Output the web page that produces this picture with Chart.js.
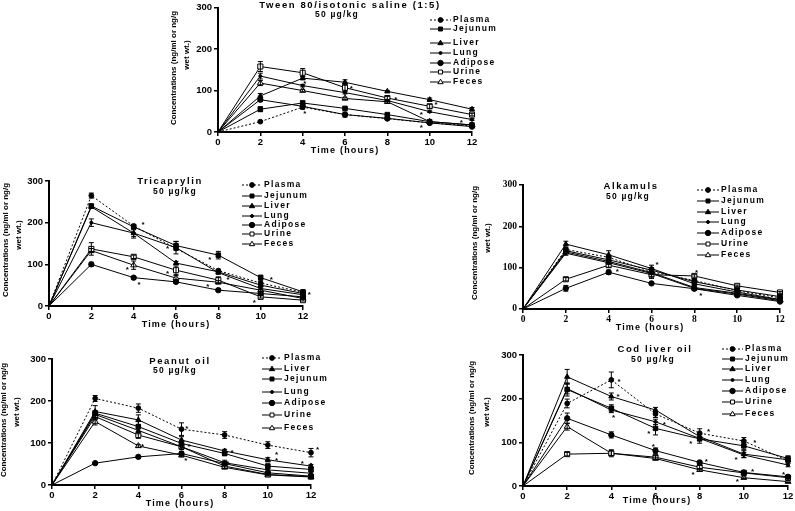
<!DOCTYPE html>
<html><head><meta charset="utf-8">
<script src="https://cdn.jsdelivr.net/npm/chart.js@4.4.1/dist/chart.umd.min.js"></script>
<style>
html,body{margin:0;padding:0;background:#fff;}
#wrap{position:relative;width:795px;height:511px;overflow:hidden;background:#fff;}
.pane{position:absolute;}
</style></head><body><div id="wrap"></div>
<script>
// ---------- DATA ----------
const hours = [0, 2, 4, 6, 8, 10, 12];
const yTickValues = [0, 100, 200, 300];
const doseLabel = '50 µg/kg';
const xTitleText = 'Time (hours)';
const yTitleLines = ['Concentrations (ng/ml or ng/g', 'wet wt.)'];

const orderStd = ['Plasma', 'Jejunum', 'Liver', 'Lung', 'Adipose', 'Urine', 'Feces'];
const orderPeanut = ['Plasma', 'Liver', 'Jejunum', 'Lung', 'Adipose', 'Urine', 'Feces'];

// Tween 80/isotonic saline
const tweenPlasma  = [0, 25, 60, 42, 32, 22, 15];
const tweenJejunum = [0, 55, 70, 57, 42, 25, 17];
const tweenLiver   = [0, 87, 130, 120, 98, 78, 55];
const tweenLung    = [0, 135, 112, 95, 76, 49, 30];
const tweenAdipose = [0, 78, 62, 42, 33, 22, 13];
const tweenUrine   = [0, 158, 143, 107, 82, 62, 42];
const tweenFeces   = [0, 118, 100, 81, 73, 25, 17];
const tweenErr = [[0,2,5,3,2,2,2],[0,6,5,3,2,2,2],[0,6,4,6,2,4,4],[0,7,3,3,2,2,2],[0,4,3,6,3,2,2],[0,12,10,8,4,5,3],[0,6,3,3,3,2,2]];
const tweenStars = [[4.1,122],[4.1,48],[6.3,108],[8.4,82],[9.6,46],[10.3,70],[9.6,14],[11.5,26]];

// Tricaprylin
const tricPlasma  = [0, 265, 192, 138, 85, 55, 33];
const tricJejunum = [0, 240, 190, 145, 122, 68, 34];
const tricLiver   = [0, 238, 175, 103, 82, 50, 30];
const tricLung    = [0, 200, 175, 140, 80, 42, 27];
const tricAdipose = [0, 100, 68, 58, 38, 30, 22];
const tricUrine   = [0, 137, 118, 86, 62, 22, 14];
const tricFeces   = [0, 133, 98, 67, 57, 38, 18];
const tricErr = [[0,6,4,4,3,3,2],[0,4,5,10,9,6,3],[0,4,12,4,4,3,2],[0,9,8,15,4,3,2],[0,5,3,3,3,2,2],[0,15,4,10,8,3,2],[0,5,10,6,4,3,2]];
const tricStars = [[4.44,199],[5.6,141],[3.7,91],[4.25,55],[5.6,82],[7.6,115],[7.5,50],[8.46,67],[10.5,67],[9.7,12],[12.3,31]];

// Alkamuls
const alkPlasma  = [0, 144, 125, 90, 69, 44, 27];
const alkJejunum = [0, 141, 119, 94, 66, 46, 30];
const alkLiver   = [0, 157, 131, 98, 61, 41, 23];
const alkLung    = [0, 135, 112, 86, 50, 36, 20];
const alkAdipose = [0, 50, 89, 62, 49, 33, 18];
const alkUrine   = [0, 72, 106, 83, 80, 56, 40];
const alkFeces   = [0, 138, 115, 88, 52, 38, 22];
const alkErr = [[0,5,4,4,3,2,2],[0,5,4,6,3,2,2],[0,7,10,8,3,2,2],[0,5,4,12,4,2,2],[0,7,5,3,3,2,2],[0,4,5,4,3,2,2],[0,5,4,4,3,2,2]];
const alkStars = [[6.26,111],[4.4,94],[8.1,92],[8.3,36],[12.1,19]];

// Peanut oil (legend order: Plasma, Liver, Jejunum, Lung, Adipose, Urine, Feces)
const peaPlasma  = [0, 206, 183, 133, 119, 95, 77];
const peaLiver   = [0, 175, 155, 107, 81, 60, 45];
const peaJejunum = [0, 171, 139, 99, 75, 45, 37];
const peaLung    = [0, 168, 130, 91, 53, 36, 28];
const peaAdipose = [0, 52, 67, 75, 51, 29, 21];
const peaUrine   = [0, 163, 119, 91, 45, 25, 20];
const peaFeces   = [0, 151, 93, 71, 42, 24, 19];
const peaErr = [[0,7,10,15,8,8,10],[0,14,12,8,4,5,4],[0,6,12,6,5,5,4],[0,8,8,6,6,3,3],[0,2,2,5,4,3,2],[0,8,8,5,5,3,3],[0,8,3,4,3,2,2]];
const peaStars = [[6.25,138],[4.2,95],[6.35,95],[6.2,62],[8.34,81],[8.15,55],[10.4,76],[10.4,62],[11.6,55],[12.3,88]];

// Cod liver oil
const codPlasma  = [0, 189, 243, 165, 121, 103, 58];
const codJejunum = [0, 221, 178, 132, 108, 92, 63];
const codLiver   = [0, 250, 205, 174, 113, 73, 60];
const codLung    = [0, 223, 174, 147, 109, 71, 48];
const codAdipose = [0, 155, 117, 81, 54, 31, 21];
const codUrine   = [0, 73, 75, 66, 43, 30, 19];
const codFeces   = [0, 136, 75, 63, 37, 19, 10];
const codErr = [[0,10,18,8,10,8,5],[0,15,8,15,10,8,6],[0,17,8,6,5,8,4],[0,12,6,6,5,6,4],[0,12,7,6,3,3,2],[0,4,5,4,4,3,2],[0,8,8,3,3,2,2]];
const codStars = [[4.35,243],[4.3,208],[4.1,160],[6.4,144],[5.7,124],[5.9,94],[8.4,128],[7.6,101],[8.3,60],[7.7,30],[10.5,103],[9.65,64],[10.4,37],[9.7,14],[11.8,30]];

// ---------- STYLE / LAYOUT ----------
const seriesStyle = {
  Plasma:  {shape:'circle',   r:2.4, fill:'#000', dash:[2,2]},
  Jejunum: {shape:'rect',     r:3.2, fill:'#000', dash:[]},
  Liver:   {shape:'triangle', r:3.0, fill:'#000', dash:[]},
  Lung:    {shape:'circle',   r:1.5, fill:'#000', dash:[]},
  Adipose: {shape:'circle',   r:2.7, fill:'#000', dash:[]},
  Urine:   {shape:'rect',     r:3.6, fill:'#fff', dash:[]},
  Feces:   {shape:'triangle', r:3.4, fill:'#fff', dash:[]}
};

const panels = [
  {id:'tween', title:'Tween 80/isotonic saline (1:5)', names:orderStd,
   series:[tweenPlasma,tweenJejunum,tweenLiver,tweenLung,tweenAdipose,tweenUrine,tweenFeces], err:tweenErr, stars:tweenStars,
   canvas:[165,0,345,160], plot:[218,7,472,132], titleXY:[350,5], doseXY:[337,15],
   legend:{x0:430, tx:453, rows:[20,29,43,53,63,72,82]}, yT:{xs:[174,187], ys:[68,55]}, xT:[345,151], tickFamily:'Liberation Sans'},
  {id:'tric', title:'Tricaprylin', names:orderStd,
   series:[tricPlasma,tricJejunum,tricLiver,tricLung,tricAdipose,tricUrine,tricFeces], err:tricErr, stars:tricStars,
   canvas:[0,168,320,167], plot:[49,181,303,306], titleXY:[170,181], doseXY:[175,192],
   legend:{x0:242, tx:264, rows:[185,196,206,216,225,234,244]}, yT:{xs:[6,19], ys:[240,235]}, xT:[176,325], tickFamily:'Liberation Sans'},
  {id:'alk', title:'Alkamuls', names:orderStd,
   series:[alkPlasma,alkJejunum,alkLiver,alkLung,alkAdipose,alkUrine,alkFeces], err:alkErr, stars:alkStars,
   canvas:[465,170,330,168], plot:[523,185,780,309], titleXY:[631,186], doseXY:[628,197],
   legend:{x0:697, tx:721, rows:[190,201,212,222,233,244,255]}, yT:{xs:[475,488], ys:[243,238]}, xT:[650,328], tickFamily:'Liberation Serif'},
  {id:'pea', title:'Peanut oil', names:orderPeanut,
   series:[peaPlasma,peaLiver,peaJejunum,peaLung,peaAdipose,peaUrine,peaFeces], err:peaErr, stars:peaStars,
   canvas:[0,340,335,171], plot:[52,359,311,485], titleXY:[180,361], doseXY:[175,371],
   legend:{x0:262, tx:284, rows:[358,369,379,392,403,415,428]}, yT:{xs:[4,17], ys:[420,412]}, xT:[180,504], tickFamily:'Liberation Sans'},
  {id:'cod', title:'Cod liver oil', names:orderStd,
   series:[codPlasma,codJejunum,codLiver,codLung,codAdipose,codUrine,codFeces], err:codErr, stars:codStars,
   canvas:[465,340,330,171], plot:[523,355,788,486], titleXY:[655,349], doseXY:[653,360],
   legend:{x0:722, tx:745, rows:[349,359,369,380,391,402,414]}, yT:{xs:[472,487], ys:[418,412]}, xT:[657,501], tickFamily:'Liberation Sans'}
];

const SANS = '"Liberation Sans", Arial, sans-serif';

function drawMarker(ctx, shape, r, fill, x, y) {
  ctx.save();
  ctx.setLineDash([]);
  ctx.fillStyle = fill; ctx.strokeStyle = '#000'; ctx.lineWidth = 1;
  ctx.beginPath();
  if (shape === 'circle') ctx.arc(x, y, r, 0, Math.PI * 2);
  else if (shape === 'rect') { const s = r * Math.SQRT1_2; ctx.rect(x - s, y - s, 2 * s, 2 * s); }
  else { ctx.moveTo(x, y - r); ctx.lineTo(x + r * 0.95, y + r * 0.6); ctx.lineTo(x - r * 0.95, y + r * 0.6); ctx.closePath(); }
  ctx.fill(); ctx.stroke();
  ctx.restore();
}

function txt(ctx, s, x, y, font, spacing, align) {
  ctx.font = font;
  try { ctx.letterSpacing = (spacing || 0) + 'px'; } catch (e) {}
  ctx.textAlign = align || 'center';
  ctx.textBaseline = 'middle';
  ctx.fillStyle = '#000';
  ctx.fillText(s, x, y);
}

function decor(p) {
  const [cx, cy] = p.canvas;
  return {
    id: 'decor_' + p.id,
    afterDatasetsDraw(chart) {
      const ctx = chart.ctx, xs = chart.scales.x, ys = chart.scales.y;
      ctx.save();
      ctx.strokeStyle = '#000'; ctx.lineWidth = 1; ctx.setLineDash([]);
      p.err.forEach((arr, i) => {
        arr.forEach((e, j) => {
          if (!e) return;
          const v = p.series[i][j];
          const px = xs.getPixelForValue(hours[j]);
          const y1 = ys.getPixelForValue(v - e), y2 = ys.getPixelForValue(v + e);
          ctx.beginPath();
          ctx.moveTo(px, y1); ctx.lineTo(px, y2);
          ctx.moveTo(px - 2.5, y1); ctx.lineTo(px + 2.5, y1);
          ctx.moveTo(px - 2.5, y2); ctx.lineTo(px + 2.5, y2);
          ctx.stroke();
        });
      });
      p.stars.forEach(([t, v]) => {
        txt(ctx, '*', xs.getPixelForValue(t), ys.getPixelForValue(v) + 2, 'bold 8px ' + SANS, 0);
      });
      ctx.restore();
    },
    afterDraw(chart) {
      const ctx = chart.ctx;
      ctx.save();
      txt(ctx, p.title, p.titleXY[0] - cx, p.titleXY[1] - cy, 'bold 9.5px ' + SANS, 1.6);
      txt(ctx, doseLabel, p.doseXY[0] - cx, p.doseXY[1] - cy, 'bold 8.5px ' + SANS, 1.2);
      txt(ctx, xTitleText, p.xT[0] - cx, p.xT[1] - cy, 'bold 9px ' + SANS, 1.2);
      yTitleLines.forEach((line, k) => {
        ctx.save();
        ctx.translate(p.yT.xs[k] - cx, p.yT.ys[k] - cy);
        ctx.rotate(-Math.PI / 2);
        txt(ctx, line, 0, 0, 'bold 8px ' + SANS, 0);
        ctx.restore();
      });
      const L = p.legend;
      p.names.forEach((n, i) => {
        const st = seriesStyle[n];
        const y = L.rows[i] - cy, x0 = L.x0 - cx, x1 = L.tx - 2 - cx;
        ctx.save();
        ctx.strokeStyle = '#000'; ctx.lineWidth = 1; ctx.setLineDash(st.dash);
        ctx.beginPath(); ctx.moveTo(x0, y); ctx.lineTo(x1, y); ctx.stroke();
        ctx.restore();
        drawMarker(ctx, st.shape, Math.min(st.r, 2.8), st.fill, (x0 + x1) / 2, y);
        txt(ctx, n, L.tx - cx, y, 'bold 8.5px ' + SANS, 1.3, 'left');
      });
      ctx.restore();
    }
  };
}

const wrap = document.getElementById('wrap');
const YW = 30, XH = 20;

panels.forEach(p => {
  const [cx, cy, cw, ch] = p.canvas;
  const [pl, pt, pr, pb] = p.plot;
  const div = document.createElement('div');
  div.className = 'pane';
  div.style.left = cx + 'px'; div.style.top = cy + 'px';
  div.style.width = cw + 'px'; div.style.height = ch + 'px';
  const cv = document.createElement('canvas');
  div.appendChild(cv); wrap.appendChild(div);
  const padding = {left: pl - cx - YW, top: pt - cy, right: cx + cw - pr, bottom: cy + ch - pb - XH};
  const datasets = p.names.map((n, i) => {
    const st = seriesStyle[n];
    return {
      label: n,
      data: hours.map((h, j) => ({x: h, y: p.series[i][j]})),
      borderColor: '#000', borderWidth: 1, borderDash: st.dash,
      pointStyle: st.shape, pointRadius: hours.map((h, j) => j === 0 ? 0 : st.r),
      pointBackgroundColor: st.fill, pointBorderColor: '#000', pointBorderWidth: 1,
      fill: false, tension: 0, clip: false
    };
  });
  const tickFont = {family: p.tickFamily, size: 9.5, weight: 'bold'};
  const gridOpt = {drawOnChartArea: false, drawTicks: true, tickLength: 4, color: '#000', lineWidth: 1.5};
  const borderOpt = {display: true, color: '#000', width: 2};
  new Chart(cv, {
    type: 'line',
    data: {datasets},
    options: {
      responsive: true, maintainAspectRatio: false, animation: false, devicePixelRatio: 1,
      layout: {padding},
      plugins: {legend: {display: false}, tooltip: {enabled: false}, title: {display: false}},
      scales: {
        x: {type: 'linear', min: 0, max: 12,
            afterFit: s => { s.height = XH; },
            ticks: {stepSize: 2, color: '#000', font: tickFont, padding: 1, maxRotation: 0, autoSkip: false},
            grid: gridOpt, border: borderOpt},
        y: {type: 'linear', min: 0, max: 300,
            afterFit: s => { s.width = YW; },
            afterBuildTicks: s => { s.ticks = yTickValues.map(v => ({value: v})); },
            ticks: {color: '#000', font: tickFont, padding: 2},
            grid: gridOpt, border: borderOpt}
      }
    },
    plugins: [decor(p)]
  });
});
</script></body></html>
